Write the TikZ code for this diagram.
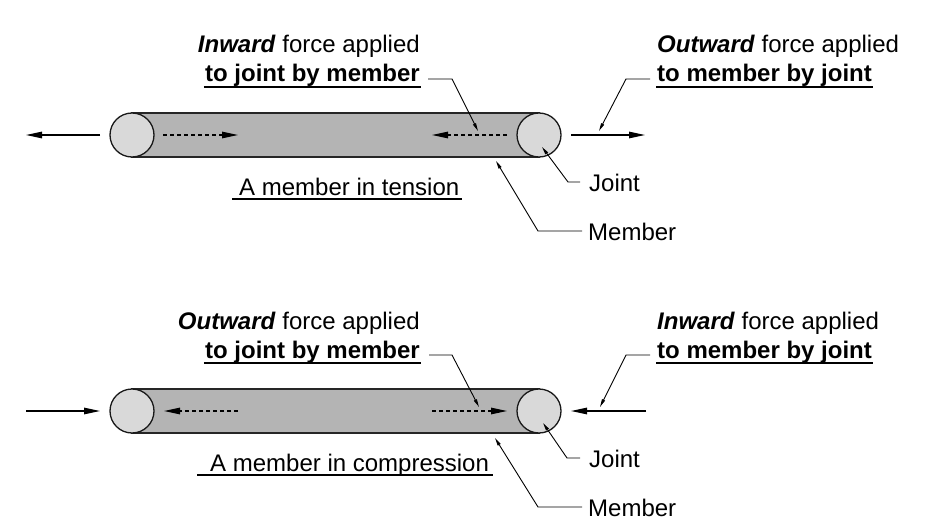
\documentclass[tikz,border=0pt]{standalone}
\usepackage{fontspec}
\setmainfont{Liberation Sans}
\usetikzlibrary{arrows.meta}
\definecolor{bargray}{HTML}{B4B4B4}
\definecolor{jointgray}{HTML}{D9D9D9}
\tikzset{
  barbox/.style={draw=black!85, line width=1.2pt, fill=bargray, minimum width=407pt, minimum height=44pt, inner sep=0pt},
  joint/.style={circle, draw=black!90, line width=1.3pt, fill=jointgray, minimum size=44pt, inner sep=0pt},
  force/.style={line width=1.2pt, -{Triangle[length=16pt,width=6.5pt]}},
  dforce/.style={force, dash pattern=on 4pt off 3pt},
  lead/.style={line width=0.9pt, -{Triangle[length=8pt,width=3.2pt]}},
  lbl/.style={inner sep=0pt, font=\fontsize{24}{29}\selectfont},
  uline/.style={line width=1.4pt}
}
\begin{document}
\begin{tikzpicture}[x=1pt,y=-1pt]
\useasboundingbox (0,0) rectangle (930,527);

% ---------------- tension ----------------
\node[barbox] (M1) at (335.5,135) {};
\node[joint] (J1L) at (132,135) {};
\node[joint] (J1R) at (539,135) {};

\coordinate (f1a) at (100,135); \coordinate (f1b) at (26,135);
\draw[force] (f1a) -- (f1b);
\coordinate (f1c) at (163,135); \coordinate (f1d) at (238,135);
\draw[dforce] (f1c) -- (f1d);
\coordinate (f1e) at (507,135); \coordinate (f1f) at (432,135);
\draw[dforce] (f1e) -- (f1f);
\coordinate (f1g) at (571,135); \coordinate (f1h) at (645,135);
\draw[force] (f1g) -- (f1h);

\node[lbl, anchor=base east] (T1a) at (420,53) {\textbf{\textit{Inward}} force applied};
\node[lbl, anchor=base east] (T1b) at (420,82) {\textbf{to joint by member}};
\draw[uline] ([yshift=-5pt,xshift=-1pt]T1b.base west) -- ([yshift=-5pt,xshift=1pt]T1b.base east);
\coordinate (l1a) at (428,79); \coordinate (l1b) at (452,79); \coordinate (l1c) at (478,131);
\draw[lead] (l1a) -- (l1b) -- (l1c);

\node[lbl, anchor=base west] (T2a) at (657,53) {\textbf{\textit{Outward}} force applied};
\node[lbl, anchor=base west] (T2b) at (657,82) {\textbf{to member by joint}};
\draw[uline] ([yshift=-5pt,xshift=-1pt]T2b.base west) -- ([yshift=-5pt,xshift=1pt]T2b.base east);
\coordinate (l2a) at (650,79); \coordinate (l2b) at (626,79); \coordinate (l2c) at (599,131);
\draw[lead] (l2a) -- (l2b) -- (l2c);

\node[lbl, anchor=base west] (JT1) at (589,191) {Joint};
\coordinate (l3a) at (580,182); \coordinate (l3b) at (568,182); \coordinate (l3c) at (542,147);
\draw[lead] (l3a) -- (l3b) -- (l3c);

\node[lbl, anchor=base west] (MT1) at (588,240) {Member};
\coordinate (l4a) at (582,231); \coordinate (l4b) at (538,231); \coordinate (l4c) at (496,161);
\draw[lead] (l4a) -- (l4b) -- (l4c);

\node[lbl, anchor=base west] (C1) at (239,195) {A member in tension};
\coordinate (u1a) at (232,199); \coordinate (u1b) at (462,199);
\draw[uline] (u1a) -- (u1b);

% ---------------- compression ----------------
\node[barbox] (M2) at (335.5,411) {};
\node[joint] (J2L) at (132,411) {};
\node[joint] (J2R) at (539,411) {};

\coordinate (g1a) at (26,411); \coordinate (g1b) at (100,411);
\draw[force] (g1a) -- (g1b);
\coordinate (g1c) at (238,411); \coordinate (g1d) at (164,411);
\draw[dforce] (g1c) -- (g1d);
\coordinate (g1e) at (432,411); \coordinate (g1f) at (507,411);
\draw[dforce] (g1e) -- (g1f);
\coordinate (g1g) at (646,411); \coordinate (g1h) at (571,411);
\draw[force] (g1g) -- (g1h);

\node[lbl, anchor=base east] (T3a) at (420,329) {\textbf{\textit{Outward}} force applied};
\node[lbl, anchor=base east] (T3b) at (420,358) {\textbf{to joint by member}};
\draw[uline] ([yshift=-5pt,xshift=-1pt]T3b.base west) -- ([yshift=-5pt,xshift=1pt]T3b.base east);
\coordinate (m1a) at (429,355); \coordinate (m1b) at (452,355); \coordinate (m1c) at (479,407);
\draw[lead] (m1a) -- (m1b) -- (m1c);

\node[lbl, anchor=base west] (T4a) at (657,329) {\textbf{\textit{Inward}} force applied};
\node[lbl, anchor=base west] (T4b) at (657,358) {\textbf{to member by joint}};
\draw[uline] ([yshift=-5pt,xshift=-1pt]T4b.base west) -- ([yshift=-5pt,xshift=1pt]T4b.base east);
\coordinate (m2a) at (650,355); \coordinate (m2b) at (626,355); \coordinate (m2c) at (600,407);
\draw[lead] (m2a) -- (m2b) -- (m2c);

\node[lbl, anchor=base west] (JT2) at (589,467) {Joint};
\coordinate (m3a) at (580,458); \coordinate (m3b) at (567,458); \coordinate (m3c) at (543,423);
\draw[lead] (m3a) -- (m3b) -- (m3c);

\node[lbl, anchor=base west] (MT2) at (588,516) {Member};
\coordinate (m4a) at (582,507); \coordinate (m4b) at (538,507); \coordinate (m4c) at (495,438);
\draw[lead] (m4a) -- (m4b) -- (m4c);

\node[lbl, anchor=base west] (C2) at (210,471) {A member in compression};
\coordinate (u2a) at (197,475); \coordinate (u2b) at (493,475);
\draw[uline] (u2a) -- (u2b);
\end{tikzpicture}
\end{document}
